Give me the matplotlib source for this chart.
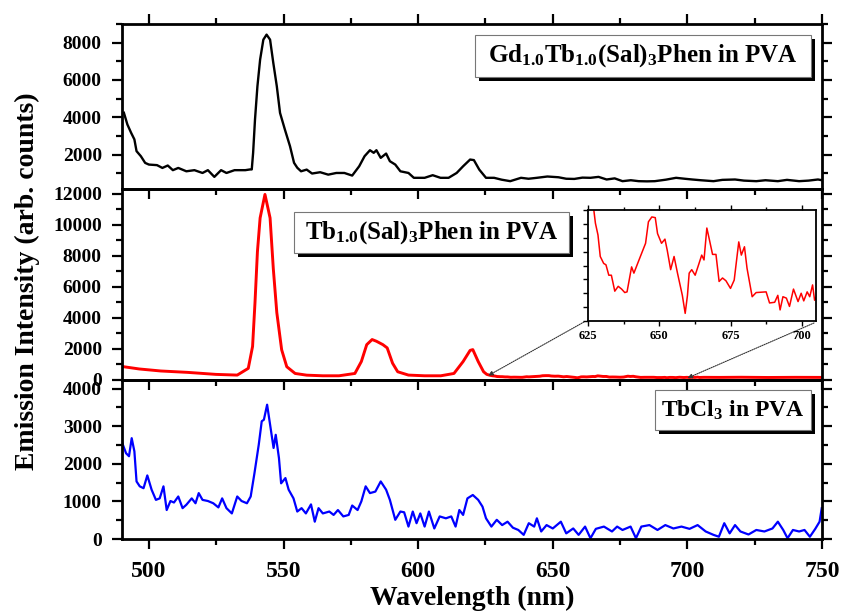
import matplotlib
matplotlib.use("Agg")
import matplotlib.pyplot as plt
from matplotlib.patches import Rectangle
from matplotlib.ticker import MultipleLocator

plt.rcParams['font.family'] = ['Liberation Serif', 'DejaVu Serif']
plt.rcParams['font.weight'] = 'bold'
plt.rcParams['mathtext.fontset'] = 'custom'
plt.rcParams['mathtext.rm'] = 'Liberation Serif:bold'
plt.rcParams['mathtext.bf'] = 'Liberation Serif:bold'
plt.rcParams['mathtext.it'] = 'Liberation Serif:bold'

# ---------------- data ----------------
gd_wl = [490.7, 492.0, 493.4, 494.6, 495.4, 497.0, 498.6, 500.0, 503.0, 505.0, 507.0, 508.9,
         510.9, 513.9, 516.9, 519.9, 521.9, 524.3, 526.8, 528.8, 531.8, 535.8, 537.6, 538.2,
         538.7, 539.4, 540.3, 541.3, 542.5, 543.7, 545.0, 546.2, 547.5, 548.7, 550.5, 552.4,
         553.9, 555.1, 556.5, 558.6, 560.6, 563.6,
         566.6, 569.6, 572.6, 575.5, 578.1, 580.1, 582.1, 583.5, 584.5, 586.1, 588.1, 589.5,
         591.5, 593.4, 596.4, 598.4, 602.4, 605.4, 608.3, 611.3, 614.3, 616.7, 619.3, 620.7,
         622.7, 625.2, 628.2, 631.0, 634.2, 638.2, 641.0, 644.1, 648.0, 652.1, 655.0, 658.0,
         661.0, 664.0, 667.0, 670.0, 673.0, 675.9, 679.0, 681.9, 685.0, 687.9, 692.0, 695.8,
         699.0, 701.8, 705.0, 709.7, 713.0, 717.7, 721.0, 725.6, 729.0, 733.6, 737.0, 741.5,
         745.0, 748.5, 750.0]
gd_int = [4240, 3610, 3160, 2810, 2180, 1910, 1550, 1460, 1430, 1280, 1410, 1160,
          1280, 1100, 1160, 1010, 1160, 800, 1160, 1010, 1160, 1160, 1200, 1200,
          2090, 3875, 5660, 7090, 8160, 8430, 8160, 6910, 5660, 4230, 3340, 2445,
          1555, 1290, 1100, 1190, 980, 1050,
          920, 1010, 1010, 870, 1370, 1910, 2230, 2090, 2230, 1820, 2050, 1640,
          1460, 1100, 1010, 750, 750, 890, 750, 750, 1010, 1370, 1730, 1700,
          1190, 750, 750, 650, 570, 750, 700, 750, 820, 780, 700, 690,
          760, 750, 800, 660, 720, 570, 620, 570, 560, 570, 650, 750,
          700, 660, 620, 570, 640, 660, 600, 570, 620, 570, 640, 570,
          600, 660, 620]

red_wl = [490.0, 496.4, 504.4, 514.4, 524.9, 532.8, 533.8, 536.9, 538.5, 539.4, 540.3, 541.3,
          543.1, 545.0, 546.2, 547.5, 549.3, 551.2, 554.3, 558.6, 564.6, 570.6, 576.5, 578.9,
          580.9, 582.9, 584.5, 586.9, 588.5, 590.5, 592.4, 596.4, 602.4, 608.4, 613.3, 616.7,
          619.3, 620.3, 622.3, 624.3, 625.5, 626.6, 627.6, 628.5, 629.3, 630.5, 631.3, 632.3,
          633.2, 634.4, 635.6, 636.8, 637.9, 638.7, 640.3, 641.1, 642.9, 645.2, 646.2, 647.4,
          648.6, 649.4, 650.8, 652.0, 652.8, 654.0, 655.2, 656.4, 658.1, 659.1, 659.9, 660.5,
          661.4, 662.6, 663.8, 664.9, 665.7, 666.7, 667.5, 668.7, 669.9, 671.0, 672.2, 673.4,
          675.0, 676.3, 677.9, 678.8, 679.9, 680.8, 682.6, 684.0, 687.5, 688.7, 690.5, 691.6,
          692.4, 693.4, 694.6, 695.7, 697.1, 698.7, 699.8, 700.7, 701.9, 702.8, 703.8, 704.5,
          706.0, 712.0, 720.0, 730.0, 740.0, 750.0]
red_int = [840, 680, 550, 460, 330, 285, 390, 720, 2135, 4975, 8250, 10430,
           11950, 10430, 7155, 4320, 1920, 825, 390, 280, 240, 240, 390, 1160,
           2250, 2580, 2470, 2250, 2040, 1050, 500, 285, 240, 240, 390, 1160,
           1880, 1930, 1160, 500, 330, 275, 241, 224, 193, 183, 181, 166,
           166, 143, 150, 146, 141, 142, 178, 169, 188, 212, 243, 250,
           249, 226, 212, 218, 202, 174, 193, 169, 137, 111, 137, 169,
           174, 166, 181, 195, 188, 234, 219, 196, 196, 157, 162, 158,
           147, 159, 214, 195, 207, 176, 135, 141, 142, 126, 127, 137,
           116, 135, 133, 121, 146, 128, 140, 129, 142, 135, 152, 130,
           140, 135, 145, 130, 140, 135]

tb_wl = [490.1, 491.5, 492.6, 493.6, 494.6, 495.4, 496.6, 498.0, 499.4, 501.0, 502.6, 504.0,
         505.4, 506.6, 508.0, 509.3, 510.9, 512.5, 513.9, 515.9, 517.3, 518.5, 519.9, 521.9,
         523.9, 525.8, 527.2, 528.8, 530.8, 532.8, 534.4, 536.4, 537.8, 539.2, 540.8, 541.9,
         542.7, 543.9, 545.1, 546.3, 547.1, 548.3, 549.1, 550.7, 551.9, 553.7, 555.1, 556.7,
         558.3, 560.2, 561.6, 563.0, 564.6, 567.0, 568.6, 570.2, 572.2, 574.2, 575.5, 577.5,
         578.9, 580.5, 582.1, 584.1, 586.1, 588.1, 589.5, 591.5, 593.4, 594.8, 596.4, 598.0,
         599.4, 600.8, 602.4, 604.0, 606.0, 608.0, 610.3, 612.3, 613.9, 615.3, 616.7, 618.3,
         620.3, 622.3, 623.9, 625.2, 627.2, 629.2, 631.2, 633.2, 635.2, 637.2, 639.2, 641.1,
         643.1, 644.1, 645.7, 647.7, 650.0, 653.0, 655.0, 657.6, 659.6, 662.0, 664.0, 666.0,
         669.0, 672.0, 673.9, 675.9, 678.9, 680.9, 682.9, 685.9, 688.9, 691.8, 694.8, 697.8,
         700.8, 703.8, 706.8, 709.7, 711.7, 713.7, 715.7, 717.7, 719.7, 722.7, 725.6, 728.6,
         731.6, 733.6, 735.6, 737.2, 739.2, 741.5, 743.5, 745.5, 747.5, 749.1, 749.9]
tb_int = [2550, 2280, 2200, 2680, 2330, 1530, 1400, 1350, 1690, 1310, 1040, 1080,
          1400, 770, 1010, 970, 1130, 820, 910, 1080, 950, 1220, 1040, 1010,
          950, 840, 1080, 820, 680, 1130, 1010, 950, 1130, 1750, 2510, 3130,
          3170, 3570, 3000, 2420, 2770, 2150, 1480, 1620, 1310, 1080, 730, 820,
          680, 920, 460, 820, 680, 730, 640, 770, 600, 640, 890, 770,
          1000, 1400, 1220, 1260, 1530, 1310, 1040, 510, 730, 710, 330, 730,
          420, 680, 330, 730, 280, 600, 550, 600, 330, 770, 640, 1080,
          1170, 1040, 860, 550, 330, 510, 370, 460, 300, 240, 110, 420,
          330, 550, 200, 370, 280, 460, 150, 280, 110, 330, 20, 270,
          330, 200, 330, 240, 330, 20, 330, 370, 240, 370, 280, 330,
          270, 370, 200, 110, 60, 420, 150, 370, 200, 120, 240, 200,
          280, 460, 240, 20, 240, 200, 240, 60, 270, 460, 820]

inset_ticks = [625, 650, 675, 700]

# ---------------- figure ----------------
W, H = 842, 611
fig = plt.figure(figsize=(W / 100, H / 100), dpi=100)

def fx(px):
    return px / W

def fy(py):
    return 1 - py / H

L, R = 122, 822
panels = [(24, 189), (189, 379.5), (379.5, 539)]
axes = []
for top, bot in panels:
    ax = fig.add_axes([fx(L), fy(bot), fx(R) - fx(L), fy(top) - fy(bot)])
    ax.set_facecolor('none')
    axes.append(ax)
ax1, ax2, ax3 = axes

ax1.plot(gd_wl, gd_int, color='black', lw=1.7)
ax2.plot(red_wl, red_int, color='red', lw=2.1)
ax3.plot(tb_wl, tb_int, color='blue', lw=1.6)

ax1.set_ylim(150, 9000)
ax2.set_ylim(0, 12300)
ax3.set_ylim(0, 4240)
ax1.yaxis.set_major_locator(MultipleLocator(2000))
ax1.yaxis.set_minor_locator(MultipleLocator(1000))
ax2.yaxis.set_major_locator(MultipleLocator(2000))
ax2.yaxis.set_minor_locator(MultipleLocator(1000))
ax3.yaxis.set_major_locator(MultipleLocator(1000))
ax3.yaxis.set_minor_locator(MultipleLocator(500))

for i, ax in enumerate(axes):
    ax.set_xlim(490, 750)
    ax.xaxis.set_major_locator(MultipleLocator(50))
    ax.xaxis.set_minor_locator(MultipleLocator(25))
    for s in ax.spines.values():
        s.set_linewidth(2.0)
    ax.tick_params(which='both', direction='out', width=1.6,
                   left=True, right=True, bottom=True, top=(i == 0),
                   labelbottom=(i == 2), labelleft=True, labelright=False, labeltop=False)
    ax.tick_params(which='major', length=7.5)
    ax.tick_params(which='minor', length=4)
    ax.tick_params(axis='y', labelsize=14, pad=7)
    ax.tick_params(axis='x', labelsize=17, pad=8)
    for lab in ax.get_xticklabels() + ax.get_yticklabels():
        lab.set_fontweight('bold')

fig.text(fx(27), fy(281), 'Emission Intensity (arb. counts)', rotation=90,
         ha='center', va='center', fontsize=20, fontweight='bold')
fig.text(fx(472), fy(598), 'Wavelength (nm)', ha='center', va='center',
         fontsize=20, fontweight='bold')

# label boxes with drop shadow
def label_box(x0, y0, x1, y1, text, size):
    sh = 4
    fig.add_artist(Rectangle((fx(x0 + sh), fy(y1 + sh)), fx(x1 - x0), fy(y0) - fy(y1),
                             transform=fig.transFigure, facecolor='black', edgecolor='none', zorder=5))
    fig.add_artist(Rectangle((fx(x0), fy(y1)), fx(x1 - x0), fy(y0) - fy(y1),
                             transform=fig.transFigure, facecolor='white', edgecolor='#777777',
                             lw=0.8, zorder=6))
    fig.text(fx((x0 + x1) / 2), fy((y0 + y1) / 2), text, ha='center', va='center',
             fontsize=size, fontweight='bold', zorder=7)

label_box(475, 35, 811, 77, r'Gd$_{1.0}$Tb$_{1.0}$(Sal)$_{3}$Phen in PVA', 18)
label_box(294, 212, 569, 253, r'Tb$_{1.0}$(Sal)$_{3}$Phen in PVA', 18)
label_box(655, 390, 811, 430, r'TbCl$_{3}$ in PVA', 17)

# inset
ix0, ix1, iy0, iy1 = 588, 816, 210, 321
axin = fig.add_axes([fx(ix0), fy(iy1), fx(ix1) - fx(ix0), fy(iy0) - fy(iy1)])
axin.plot(red_wl, red_int, color='red', lw=1.1)
axin.set_xlim(625, 705)
axin.set_ylim(100, 260)
axin.set_xticks(inset_ticks)
axin.xaxis.set_minor_locator(MultipleLocator(12.5))
axin.yaxis.set_major_locator(MultipleLocator(20))
axin.set_yticklabels([])
for s in axin.spines.values():
    s.set_linewidth(1.3)
axin.tick_params(which='both', direction='out', width=1.0, top=True, bottom=True,
                 left=True, right=False, labelsize=9, pad=3)
axin.tick_params(which='major', length=3.5)
axin.tick_params(which='minor', length=2.5)
for lab in axin.get_xticklabels():
    lab.set_fontweight('bold')

# dotted arrows from inset corners to the curve
for (xy, corner) in [((626, 250), (ix0 - 4, iy1 + 1)), ((700, 90), (ix1 - 2, iy1 + 2))]:
    ax2.annotate('', xy=xy, xycoords='data',
                 xytext=(fx(corner[0]), fy(corner[1])), textcoords='figure fraction',
                 arrowprops=dict(arrowstyle='-|>', linestyle=(0, (1, 1)), lw=0.8,
                                 color='#333333', mutation_scale=7, shrinkA=0, shrinkB=0))

fig.savefig('out.png', dpi=100)
